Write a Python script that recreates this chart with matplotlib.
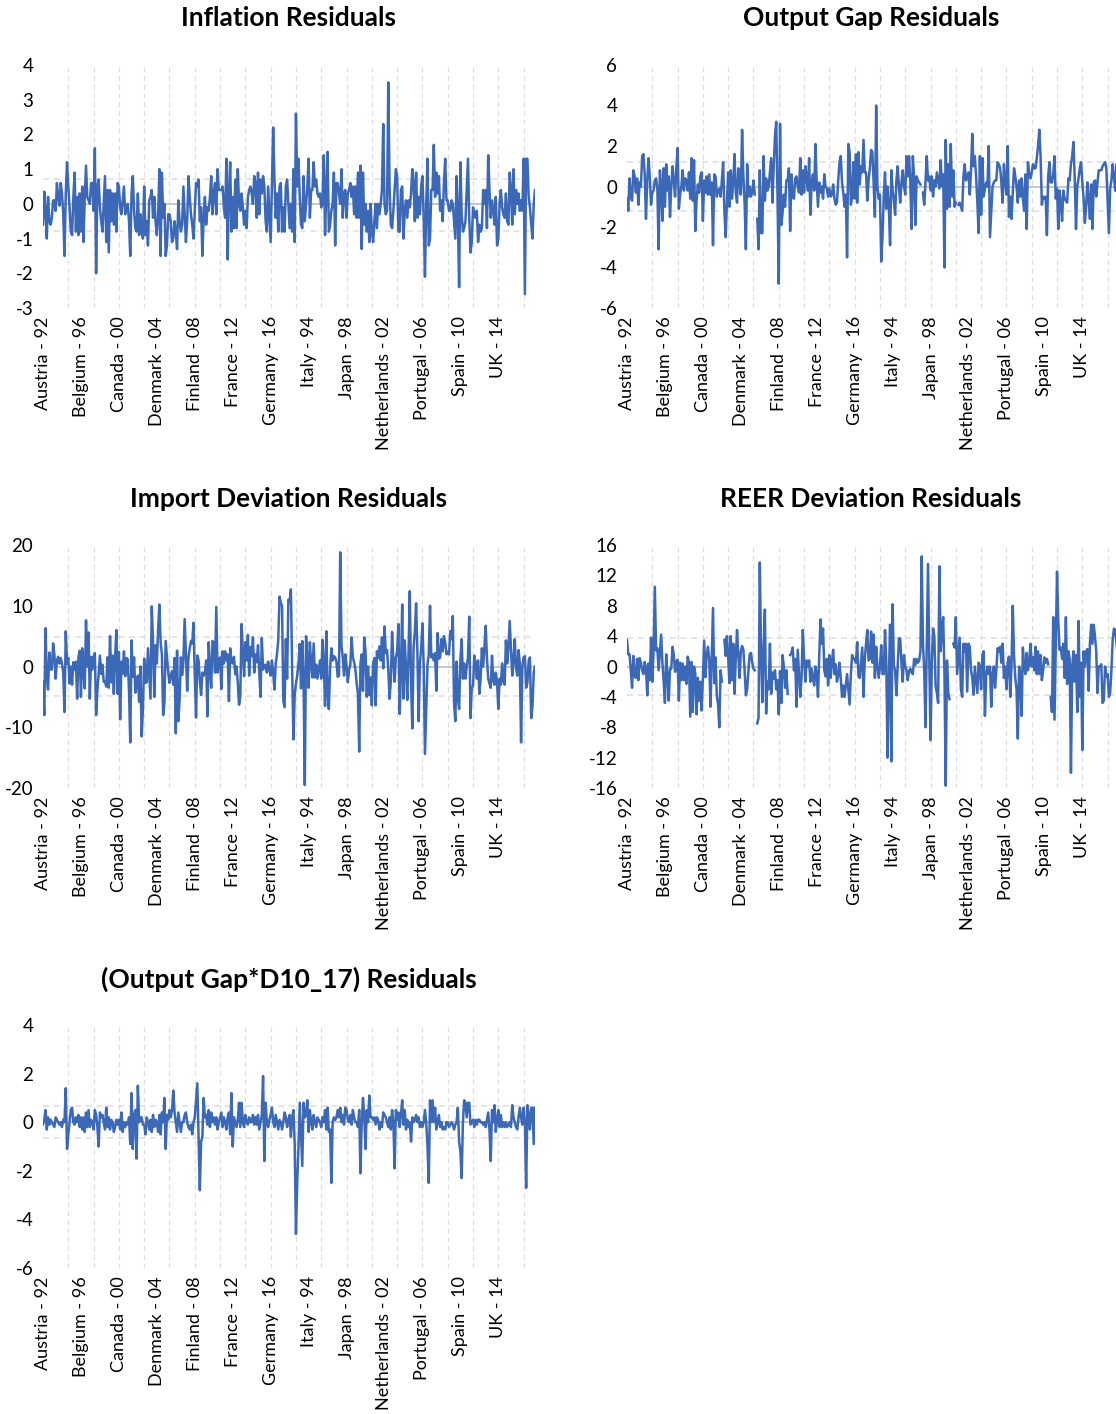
import numpy as np
import matplotlib.pyplot as plt

nan = float('nan')

# panel of 15 countries x 26 years (1992-2017)
countries = ['Austria', 'Belgium', 'Canada', 'Denmark', 'Finland', 'France', 'Germany',
             'Ireland', 'Italy', 'Japan', 'Netherlands', 'Portugal', 'Spain', 'UK', 'US']
years = list(range(1992, 2018))

inflation = [
    -0.6, 0.35, -0.2, -1.0, 0.2, -0.5, -0.6, -0.4, 0.1, 0.1,
    -0.2, 0.6, 0.2, -0.05, 0.6, 0.3, -0.3, -1.5, 0.3, 1.2,
    0.5, -0.1, -0.8, -0.9, 0.2, 0.9, -0.8, 0.2, -0.9, 0.3,
    -0.8, 0.5, -1.1, 0.2, 1.1, 0.2, 0.1, 0.0, 0.6, 0.6,
    -0.2, 1.6, -2.0, 0.5, 0.7, -0.1, -0.5, -0.8, 0.0, 0.8,
    -1.1, 0.4, -1.4, 0.4, -0.5, 0.3, -0.6, 0.3, -0.8, 0.6,
    0.5, -0.1, -0.3, 0.1, 0.5, -0.3, -0.1, 0.0, -0.5, -1.5,
    0.3, 0.8, -0.2, -0.7, -0.8, 0.3, -0.9, -0.3, -0.8, -1.0,
    0.5, -0.9, -0.5, -1.2, 0.1, 0.2, 0.4, -0.4, 0.2, -0.5,
    -0.9, -0.4, 1.0, -1.5, 0.9, -0.4, 0.0, -1.5, -1.2, -0.3,
    -0.3, -0.5, -1.1, -1.0, -0.5, -0.8, -1.3, 0.1, -0.5, -0.8,
    -0.6, 0.5, -0.3, -1.1, -0.5, 0.8, 0.2, -0.3, -0.6, -1.0,
    -0.2, 0.6, 0.5, 0.7, -0.5, -0.1, -1.5, -0.4, 0.2, -0.6,
    -0.1, -0.2, 0.2, 0.8, -0.3, 0.3, 0.6, -0.3, 1.0, 0.4,
    0.4, 0.4, 0.5, -0.1, -0.4, 1.3, -1.6, 0.3, 1.2, -0.8,
    0.2, -0.7, 0.7, -0.7, 1.0, 0.0, -0.2, 0.3, -0.1, -0.6,
    -0.2, -0.7, 0.2, 0.4, 0.5, 0.3, 0.0, 0.8, 0.6, -0.4,
    0.9, -0.3, 0.7, 0.3, 0.8, 0.5, -0.5, -0.8, 0.5, -0.3,
    -1.1, 0.5, 2.2, 0.7, -0.4, 0.3, -0.8, 0.5, 0.6, -0.8,
    -0.1, -0.8, 0.5, 0.7, 0.0, -0.7, 0.0, -0.8, 1.0, -1.1,
    2.6, 0.5, 1.3, 0.2, -0.6, -0.7, 0.8, -0.5, 0.0, 0.5,
    1.3, -0.4, 0.4, 0.4, 1.2, 0.5, 0.7, 0.3, 0.2, 0.3,
    -0.1, 0.0, 1.4, -0.9, 0.4, 1.5, -0.8, -0.6, -0.2, 0.0,
    0.9, -1.2, 0.6, 0.6, 0.3, 0.0, 1.0, -0.4, 0.3, 0.4,
    -0.4, 0.3, 0.4, 0.6, 0.2, 0.5, -0.3, 0.5, -0.4, 0.9,
    -0.4, 1.1, -1.3, 0.9, -0.6, 0.0, -0.8, -0.2, -1.1, 0.0,
    -0.8, -1.1, -0.5, 0.0, -0.7, 0.0, -0.3, 0.0, 0.4, 2.3,
    0.0, -0.3, -0.2, 3.5, 0.5, -0.6, -0.7, -0.2, 0.4, 1.0,
    0.8, -0.8, -0.8, 0.4, 0.5, -1.0, -0.2, 0.1, -0.4, 0.1,
    -0.1, 0.3, 1.0, 0.6, -0.5, 0.9, -0.4, 0.2, -0.3, 0.5,
    0.8, -0.4, -2.1, 0.0, 1.3, -1.2, -1.0, 0.4, 0.4, 1.7,
    0.2, 0.9, 0.3, 0.8, -0.2, 0.1, -0.5, 0.6, 1.3, 0.1,
    0.1, -0.2, -0.2, 0.1, 0.0, -0.5, -1.0, 0.8, -0.3, -2.4,
    1.2, -0.3, -0.8, -0.7, -0.5, 0.4, 1.3, -0.4, -1.4, -1.1,
    -0.1, -0.3, -0.4, -0.2, -1.1, -0.6, -0.8, -0.7, 0.4, 0.0,
    0.4, -0.7, 1.4, 0.4, -0.4, 0.1, -0.2, -0.6, 0.2, -1.2,
    -1.0, 0.0, 0.4, -0.1, -0.3, -0.4, 0.3, -0.5, -0.6, 0.9,
    0.4, -0.6, 1.0, -0.3, 0.4, 0.0, 0.3, -0.2, 0.1, -0.2,
    1.3, -2.6, 1.3, 1.3, 0.2, -0.1, -0.6, -1.0, 0.0, 0.4,
]

output_gap = [
    -0.6, -1.2, 0.4, -0.5, -0.7, 0.8, 0.5, -0.3, 0.4, -0.9,
    0.2, 0.0, 1.5, 1.6, 0.6, -1.6, 0.3, 1.4, 0.5, -0.9,
    -0.3, -0.2, 0.3, 0.4, -0.1, -3.1, 0.8, 0.0, -1.7, 0.9,
    -1.0, 1.1, -0.2, 0.5, -1.5, 0.0, 1.0, 0.3, -0.5, 0.9,
    1.9, -1.1, -0.4, 0.0, 0.8, -0.2, 0.4, 0.3, -0.2, 0.7,
    -0.6, 1.4, -0.7, 1.3, -2.2, -0.7, 0.1, -0.3, 0.5, 0.7,
    -1.7, 0.3, -0.3, 0.5, -0.4, 0.6, -0.4, 0.2, -2.9, 0.6,
    0.5, -0.5, -0.2, -0.1, -0.5, 0.3, 1.2, -1.2, -2.5, -0.8,
    0.7, -1.0, 0.8, -0.6, 0.2, 1.6, -0.3, -0.8, 0.9, 0.3,
    -0.4, 2.8, 0.5, -0.8, -3.1, 1.1, -0.5, 0.0, -0.5, -0.3,
    0.3, -0.4, nan, -1.6, -3.1, 0.8, -2.3, -2.3, 1.5, -0.7,
    0.4, -0.2, 0.0, 0.7, 1.4, -0.8, 1.0, 2.5, 3.2, -0.5,
    -4.8, 3.1, -1.9, -1.3, -0.4, -1.0, 0.3, 0.3, 0.9, -2.2,
    0.6, -0.5, -0.6, 0.4, 0.5, 0.0, -0.3, 1.4, -0.4, 0.8,
    -0.3, 1.0, 0.5, -0.2, 1.4, -1.4, 0.2, 0.6, -0.2, 2.1,
    0.2, -1.0, 0.2, -0.3, 0.0, -0.6, 0.6, 0.0, -0.1, -0.5,
    -0.1, -0.5, -0.4, 0.1, -0.6, -0.9, -0.8, 0.3, 1.2, 1.5,
    0.2, -0.3, -1.0, -0.4, -3.5, 2.1, 1.7, -0.9, -0.5, 1.2,
    -0.6, 1.6, -0.8, 1.7, 0.1, 1.0, 0.7, 2.3, 0.7, 0.7,
    -0.7, 0.3, 0.9, 1.8, 1.7, 0.2, -1.5, 4.0, 0.0, -0.6,
    -0.4, -3.7, -2.5, -0.5, 0.7, -1.1, 0.0, -1.0, -2.9, 0.8,
    -0.2, -0.7, -1.4, 0.3, 1.0, 0.0, -0.8, 0.2, 0.8, 0.0,
    -0.4, 1.5, 0.5, 1.5, 0.2, -2.1, 1.5, 0.4, -1.9, 0.5,
    0.3, 0.2, 0.1, nan, -0.3, -0.9, 0.2, 1.5, 0.3, 0.5,
    -0.2, 0.5, -0.5, 0.3, 0.0, 0.7, 0.3, -0.1, 1.3, 0.0,
    0.6, -4.0, 2.3, -1.1, 1.1, -1.0, 2.1, -0.5, 0.8, -1.0,
    -0.8, nan, -0.9, -0.8, -1.0, -1.2, 0.5, 1.1, 0.3, 0.5,
    0.7, -0.4, 0.8, 2.6, 1.0, 1.5, 0.5, -0.8, -2.3, 1.5,
    -1.4, 1.4, -0.5, -0.1, 0.2, 0.0, 2.0, -2.5, -1.3, 0.0,
    0.2, 0.3, 0.3, 1.2, 1.1, 0.9, 0.2, -0.8, 1.1, 0.3,
    -0.4, 2.0, -1.5, -0.5, -1.6, -0.4, 0.9, 0.5, 0.0, -0.8,
    0.3, -0.5, 0.4, -0.6, -1.2, 0.6, -2.1, 1.2, 0.6, 0.4,
    0.7, 1.1, 0.9, 0.9, 1.4, 2.0, 2.8, 1.5, -0.9, -0.5,
    -0.6, -0.5, -2.4, 0.5, 1.2, 0.2, 0.2, 0.6, 1.5, -0.6,
    -0.1, -2.1, -0.2, -0.8, -1.7, -0.2, -0.6, -0.7, -0.8, 0.4,
    0.3, 1.1, 1.5, 2.2, 0.4, -2.1, 0.0, 0.4, 0.9, 1.2,
    0.2, -0.6, -1.8, -1.0, 0.2, -0.6, -1.6, 0.1, -2.1, 0.2,
    0.3, -0.5, 0.2, 0.8, 0.8, 0.8, 1.0, 1.1, 1.2, 0.9,
    -0.7, -2.3, -0.1, 0.3, 1.1, 0.5, -0.2, 1.1, -2.1, 0.0,
]

import_dev = [
    -2.5, -8.0, 6.3, -2.0, -3.8, 2.3, -0.5, -0.5, 3.8, 2.0,
    -2.0, 1.0, 1.6, 0.5, 1.4, 0.5, -1.0, -7.5, 5.8, 0.5,
    1.4, -2.8, 0.0, -3.0, 0.7, -0.5, 0.8, -5.3, 1.5, 2.6,
    -5.0, 3.0, -1.0, -3.6, 7.6, 0.0, 5.6, -5.3, 1.6, -0.5,
    1.6, 2.2, -8.0, -4.0, -1.0, 1.8, -1.2, 0.3, -2.5, -2.5,
    -3.3, 1.5, -3.5, 5.0, -2.6, 1.8, -4.5, 1.5, 6.0, -4.5,
    2.4, -8.7, 0.8, -1.2, 2.5, -1.6, 1.4, 1.2, -4.0, -12.5,
    4.3, -1.7, 1.5, -4.3, -3.0, -1.5, -5.8, 0.0, -11.5, -7.0,
    1.3, -2.7, -2.6, 3.0, -1.0, -5.3, 9.9, 4.0, -5.0, 3.5,
    0.5, 6.0, 10.2, 4.0, 2.0, -8.0, -6.0, 4.2, 1.5, -1.0,
    -2.7, -1.5, -0.8, -3.0, 1.4, -11.0, 2.6, -9.0, -5.5, 1.5,
    -1.4, 1.0, 7.8, 2.0, -4.0, 1.5, 3.0, 4.2, 3.8, 7.2,
    -1.5, -8.4, 1.8, 1.0, -2.4, -4.7, -1.0, -1.5, -1.0, 1.0,
    -8.2, 4.0, -0.5, -3.5, 4.2, 4.0, -1.0, 9.8, -1.0, 0.5,
    1.5, -3.7, 2.5, 0.5, 2.5, 1.0, 2.0, -5.7, 3.0, 0.8,
    0.5, 1.6, -1.3, 0.0, -2.6, -6.3, -5.0, 7.0, 2.5, -1.6,
    4.0, 1.0, 5.2, -1.5, 3.2, 1.7, 4.8, -1.0, 2.0, 0.7,
    3.5, -1.0, -5.0, 4.7, -0.5, 0.2, 0.3, -1.0, 0.8, -0.5,
    -1.5, 1.0, -1.0, -3.8, 0.5, 2.0, 4.3, 11.5, 10.5, 10.0,
    -5.6, -6.7, 4.5, -2.0, 11.0, 10.7, 12.7, -0.5, -12.0, -4.7,
    -2.8, -1.5, 0.5, 3.7, -3.6, 4.2, -2.0, -19.5, 5.0, 1.5,
    -3.5, 4.0, 0.5, -1.8, 3.8, -1.8, 0.3, -2.0, -0.5, 1.0,
    -2.0, 4.4, 0.5, -6.5, 5.8, -4.5, -7.0, -0.3, 3.0, 1.0,
    1.7, 1.5, 0.8, -1.7, -1.5, 18.8, 3.4, 1.5, -1.5, 2.0,
    0.0, -2.6, -0.5, 0.3, 4.8, 1.5, 0.7, -0.5, -2.8, -4.5,
    -14.0, 0.5, 2.0, -4.0, 4.8, 2.5, -5.0, 0.0, -4.7, -1.8,
    -6.4, 0.5, 1.4, -6.4, 2.5, 1.4, 3.3, 1.0, 4.8, -0.3,
    6.6, 2.2, 2.7, -0.5, -5.3, -2.5, 5.7, 1.0, -2.5, 1.5,
    2.5, 7.0, -7.8, -1.0, 10.2, -5.3, 4.3, 0.0, -5.5, 2.0,
    12.4, -2.5, -10.2, 3.2, 5.8, 10.4, 2.5, -9.0, 0.5, 3.0,
    7.1, 0.0, -14.4, -7.0, 0.3, 2.0, 10.0, 1.5, 2.0, 1.0,
    2.2, -4.0, 5.5, 1.3, 1.5, 4.5, 2.5, 5.0, 4.0, 2.0,
    2.4, 2.0, 5.8, 4.5, 8.3, -6.0, -9.0, 0.8, -5.0, -7.0,
    1.0, 4.5, -2.0, 0.5, -2.0, 0.0, 1.5, 8.2, -8.5, -3.5,
    -3.2, 1.8, 0.5, -2.0, 1.0, -4.5, -2.0, 3.0, 0.0, 3.0,
    6.7, 1.5, -2.0, -2.8, -3.5, 1.8, -2.3, -3.0, -1.0, -2.5,
    -7.0, -2.0, -3.0, 0.5, -2.5, -3.0, 4.3, 0.5, 3.0, 7.5,
    3.0, -1.5, 1.0, 4.5, -0.3, -1.5, 2.7, 0.5, -12.5, 0.0,
    1.5, 1.7, -3.5, -2.7, 1.0, 1.5, -8.5, -6.5, -1.0, 0.0,
]

reer_dev = [
    3.5, 1.6, 1.6, -0.5, -2.8, 1.4, -1.2, -1.5, 1.0, -1.8,
    1.1, 0.5, -0.5, -1.0, 0.6, -0.2, -3.8, 0.4, -1.8, 3.8,
    -2.0, 2.0, 10.5, 2.1, 2.4, -0.5, 1.8, 4.2, 0.5, -2.0,
    -4.8, 1.6, -1.2, -4.5, -0.3, -0.3, 2.6, 1.5, -0.7, 0.6,
    0.9, -4.5, 0.5, -1.8, 0.4, -1.8, 0.0, -2.3, 1.3, 0.5,
    -6.6, 0.6, -6.0, 0.0, -1.0, -6.3, -1.5, -4.5, -2.0, -5.8,
    -1.5, 3.4, -1.4, 1.5, 2.6, 1.0, -5.3, 1.0, 7.7, -2.2,
    1.2, -3.8, -5.0, -8.0, -0.5, -2.0, nan, 3.5, 1.4, 4.0,
    1.2, -2.2, 4.0, -1.8, 3.0, -3.6, 1.0, 4.8, 1.5, -1.5,
    2.0, 2.7, 2.2, -0.5, -3.8, -3.0, -0.5, 1.6, 1.8, 0.5,
    -0.3, -0.5, nan, -7.5, -6.8, 13.7, 2.0, -4.7, 2.5, 7.5,
    -6.2, -2.0, -3.0, 3.0, -3.6, -0.8, -1.6, -0.5, -3.0, -1.8,
    -6.3, -0.6, -4.8, 1.5, 0.0, -2.8, -0.5, -3.6, nan, 1.5,
    1.8, 2.5, -0.5, 1.0, -5.3, 2.2, -1.0, -4.0, -1.5, 4.8,
    1.0, -2.0, 0.8, 0.0, 0.8, -2.0, -0.3, -1.5, -2.5, 0.0,
    -1.0, -4.0, 1.5, 6.2, 3.0, 5.0, -0.5, -1.3, 1.0, -2.5,
    1.5, -1.5, 0.5, 2.2, -1.0, 0.3, -2.0, -1.2, 0.5, -1.5,
    -4.0, -2.5, -4.0, -2.5, -1.0, -3.0, -5.0, -1.0, 1.5, 1.0,
    1.0, 0.5, 3.2, -1.3, -1.5, 0.5, 2.5, -4.0, 1.0, 3.0,
    4.8, 0.8, 1.0, 4.6, 0.5, 4.2, -1.5, 2.6, 0.0, -1.5,
    0.0, 2.8, -1.0, -1.0, 4.8, 0.5, -12.0, -2.0, 5.5, -12.5,
    8.2, 0.0, -0.5, -3.8, 0.0, 3.7, 3.7, 0.5, -2.0, 1.5,
    0.0, -0.5, -1.8, -0.6, -0.3, -0.8, -1.0, 1.0, 0.2, 1.0,
    0.5, 0.8, 2.0, 14.5, 3.0, -0.5, -8.0, 2.5, 13.5, 1.0,
    -9.7, 0.5, 5.0, 4.0, -2.5, -3.5, -4.8, 13.2, 2.0, 5.0,
    6.5, -1.0, -15.7, 0.8, -3.5, -4.3, nan, nan, 3.0, 2.5,
    6.5, -1.0, 1.5, 3.8, -3.0, -4.0, 3.0, 2.0, 3.0, -3.3,
    3.0, 2.6, -0.5, -1.5, -3.7, 0.0, -1.7, -3.5, 0.5, 0.0,
    -3.0, 1.5, 2.0, -6.5, -1.0, 0.0, -1.0, 0.0, -5.3, -1.0,
    0.0, -2.8, -0.5, 2.4, 2.0, 2.6, 0.5, 3.0, -1.5, 0.0,
    -3.0, 0.5, 1.3, -4.0, 0.0, 8.0, 1.5, -1.5, -3.0, -9.5,
    0.0, -1.0, -6.5, 2.5, 0.0, -1.0, 1.8, -0.5, 0.5, 3.0,
    0.0, 1.2, -0.5, 2.6, -1.0, 2.0, -1.0, 1.5, -1.8, -0.5,
    1.2, 0.5, 1.0, 0.3, nan, -4.0, -6.0, 6.5, -7.0, 3.0,
    12.5, 6.0, 2.2, 2.5, 1.0, 3.0, -1.5, 6.5, -2.3, 2.0,
    1.0, -14.0, 0.0, 2.0, -2.0, 1.5, -6.0, 6.0, -4.0, 0.5,
    -11.0, 2.0, 0.0, 2.0, 2.3, -3.2, 3.0, 5.5, 3.0, 5.5,
    4.0, 2.0, -3.5, 0.0, 0.0, 0.3, -4.8, -4.5, 0.0, -1.3,
    -1.0, -4.0, -3.5, -0.5, 3.5, 5.0, 4.8, 3.0, 1.5, 1.2,
]

gap_d10_17 = [
    -0.1, 0.1, 0.5, -0.3, 0.2, -0.1, 0.1, 0.0, -0.1, -0.2,
    0.2, 0.1, 0.0, -0.1, 0.0, -0.2, 0.1, 0.0, 1.4, -1.1,
    -0.5, 0.0, 0.5, 0.6, 0.0, -0.1, 0.2, 0.0, 0.3, -0.2,
    0.2, -0.3, 0.2, -0.4, 0.4, -0.2, 0.5, -0.2, 0.1, 0.0,
    -0.3, 0.5, 0.3, -0.2, -1.0, 0.4, 0.2, 0.3, 0.0, -0.3,
    0.6, -0.2, 0.2, -0.3, 0.1, 0.0, -0.4, -0.2, 0.1, -0.1,
    0.1, -0.3, 0.4, -0.4, 0.0, -0.2, 0.0, -0.1, 0.2, -0.9,
    1.2, -1.1, 0.3, 0.5, -1.5, 1.5, 0.0, 0.2, 0.2, -0.1,
    -0.1, -0.5, 0.2, 0.0, -0.3, 0.1, -0.4, 0.3, -0.2, 0.1,
    0.0, -0.4, 0.3, -0.5, 0.4, 0.0, 1.0, -1.1, 0.3, 0.1,
    0.5, 0.2, 0.5, 1.3, 0.4, 0.0, -0.4, 0.4, 0.0, -0.4,
    0.0, 0.0, 0.3, 0.4, 0.0, -0.2, -0.3, -0.1, -0.5, 0.0,
    0.2, 0.9, 1.6, -0.7, -2.8, -0.8, -0.6, 1.0, 0.2, 0.3,
    -0.1, 0.5, -0.2, 0.4, 0.0, 0.2, -0.1, 0.2, -0.3, 0.0,
    0.2, 0.4, -0.2, 0.2, 0.0, -0.3, 0.2, 0.4, -0.5, 1.2,
    -1.0, 0.2, 0.0, -0.2, 0.1, 0.8, -0.2, 0.8, 0.0, -0.2,
    0.3, 0.0, -0.1, 0.2, 0.0, 0.0, 0.3, -0.1, 0.2, -0.1,
    0.3, -0.3, 0.0, 0.3, 1.9, -1.6, 0.8, 0.0, -0.2, 0.1,
    0.3, 0.6, 0.0, -0.2, 0.3, 0.0, -0.3, 0.1, 0.0, -0.3,
    0.0, 0.4, 0.2, -0.2, 0.1, 0.3, -0.6, 0.2, 0.5, -0.9,
    -4.6, -2.5, -1.0, 0.8, -0.5, -1.8, 0.8, 0.2, 0.3, 0.9,
    -0.4, 0.5, 0.0, -0.3, 0.3, 0.0, -0.2, 0.2, 0.1, 0.0,
    -0.2, 0.2, 0.0, 0.5, -0.3, 0.6, -0.4, -0.3, -2.5, 0.0,
    0.2, 0.1, 0.2, 0.5, 0.2, 0.6, 0.0, 0.3, -0.1, 0.6,
    0.5, 0.1, 0.0, 0.3, -0.1, 0.5, 0.2, 0.0, 0.0, -0.2,
    0.5, -2.1, 0.0, 1.0, 0.2, -1.1, 0.5, 0.0, 1.1, 0.2,
    0.2, 0.1, 0.2, -0.1, 0.2, 0.1, -0.3, 0.0, -0.2, 0.4,
    0.3, 0.2, 0.0, -0.2, 0.2, -0.3, 0.5, 0.0, -1.9, 0.5,
    0.1, 0.4, -0.2, 0.3, 0.9, -0.1, 0.5, -0.3, 0.1, -0.2,
    0.0, -0.8, 0.2, 0.0, 0.1, 0.3, 0.0, 0.2, -0.2, 0.0,
    -0.2, 0.0, 0.5, 0.0, -1.0, -2.5, 0.9, 0.0, 0.9, 0.0,
    0.6, -0.3, 0.0, 0.3, -0.2, 0.0, -0.3, -0.2, -0.3, 0.0,
    0.0, -0.2, -0.1, 0.0, -0.1, -0.3, -0.1, 0.0, 0.6, -0.8,
    -1.2, -2.3, 0.0, 0.9, 0.8, 0.2, 0.8, 0.8, -0.1, 0.0,
    0.1, -0.2, 0.1, -0.1, 0.1, 0.1, 0.0, 0.0, -0.1, 0.0,
    -0.2, 0.1, 0.4, -0.3, -1.6, 0.5, 0.0, 0.7, -0.4, 0.1,
    0.5, -0.2, 0.3, -0.2, 0.0, -0.2, 0.0, -0.2, -0.1, 0.0,
    -0.2, 0.7, 0.2, 0.0, -0.2, -0.3, 0.2, 0.6, 0.2, -0.1,
    0.6, 0.0, -2.7, 0.7, 0.3, -0.3, 0.6, 0.6, -0.9, 0.6,
]

titles = ['Inflation Residuals', 'Output Gap Residuals', 'Import Deviation Residuals',
          'REER Deviation Residuals', '(Output Gap*D10_17) Residuals']
series = [inflation, output_gap, import_dev, reer_dev, gap_d10_17]
bands = [(0.73, -0.77), (1.2, -1.22), (4.8, -4.8), (3.8, -3.8), (0.66, -0.66)]
yranges = [(-3, 4, 1), (-6, 6, 2), (-20, 20, 10), (-16, 16, 4), (-6, 4, 2)]

labels = ['%s - %02d' % (c, y % 100) for c in countries for y in years]

plt.rcParams['font.family'] = ['Lato', 'DejaVu Sans']
plt.rcParams['axes.unicode_minus'] = False

W, H = 1116, 1414
fig = plt.figure(figsize=(W / 100, H / 100), dpi=100)

# pixel boxes: (left, top of plot, title centre x, title y)
boxes = [(43, 65, 289, 18), (627, 65, 871, 18),
         (43, 545, 289, 499), (627, 545, 871, 499),
         (43, 1025, 289, 979)]
pw, ph = 492, 243

for vals, title, band, yr, box in zip(series, titles, bands, yranges, boxes):
    left, top, tx, ty = box
    ax = fig.add_axes([left / W, 1 - (top + ph) / H, pw / W, ph / H])
    x = np.arange(len(vals))
    n = len(labels)

    for g in range(20, n, 20):
        ax.axvline(g, color='#dedede', lw=0.9, ls=(0, (4, 3)), zorder=0)
    ax.axhline(0, color='#bfbfbf', lw=1.2, zorder=1)
    for b in band:
        ax.axhline(b, color='#dedede', lw=1.1, ls=(0, (4, 3)), zorder=1)

    ax.plot(x, vals, color='#3b69b8', lw=1.8, zorder=3)

    ax.set_xlim(0, n - 1)
    ax.set_ylim(yr[0], yr[1])
    ax.set_yticks(np.arange(yr[0], yr[1] + 0.1, yr[2]))
    ax.set_xticks(range(0, n, 30))
    ax.set_xticklabels(labels[::30], rotation=90, va='top', ha='center')
    ax.tick_params(length=0, labelsize=13, colors='black')
    ax.tick_params(axis='y', labelsize=13.5, pad=7)
    ax.tick_params(axis='x', pad=6)
    for s in ax.spines.values():
        s.set_visible(False)

    fig.text(tx / W, 1 - ty / H, title, ha='center', va='center',
             fontsize=19, fontweight='bold')

plt.savefig('out.png', dpi=100)
